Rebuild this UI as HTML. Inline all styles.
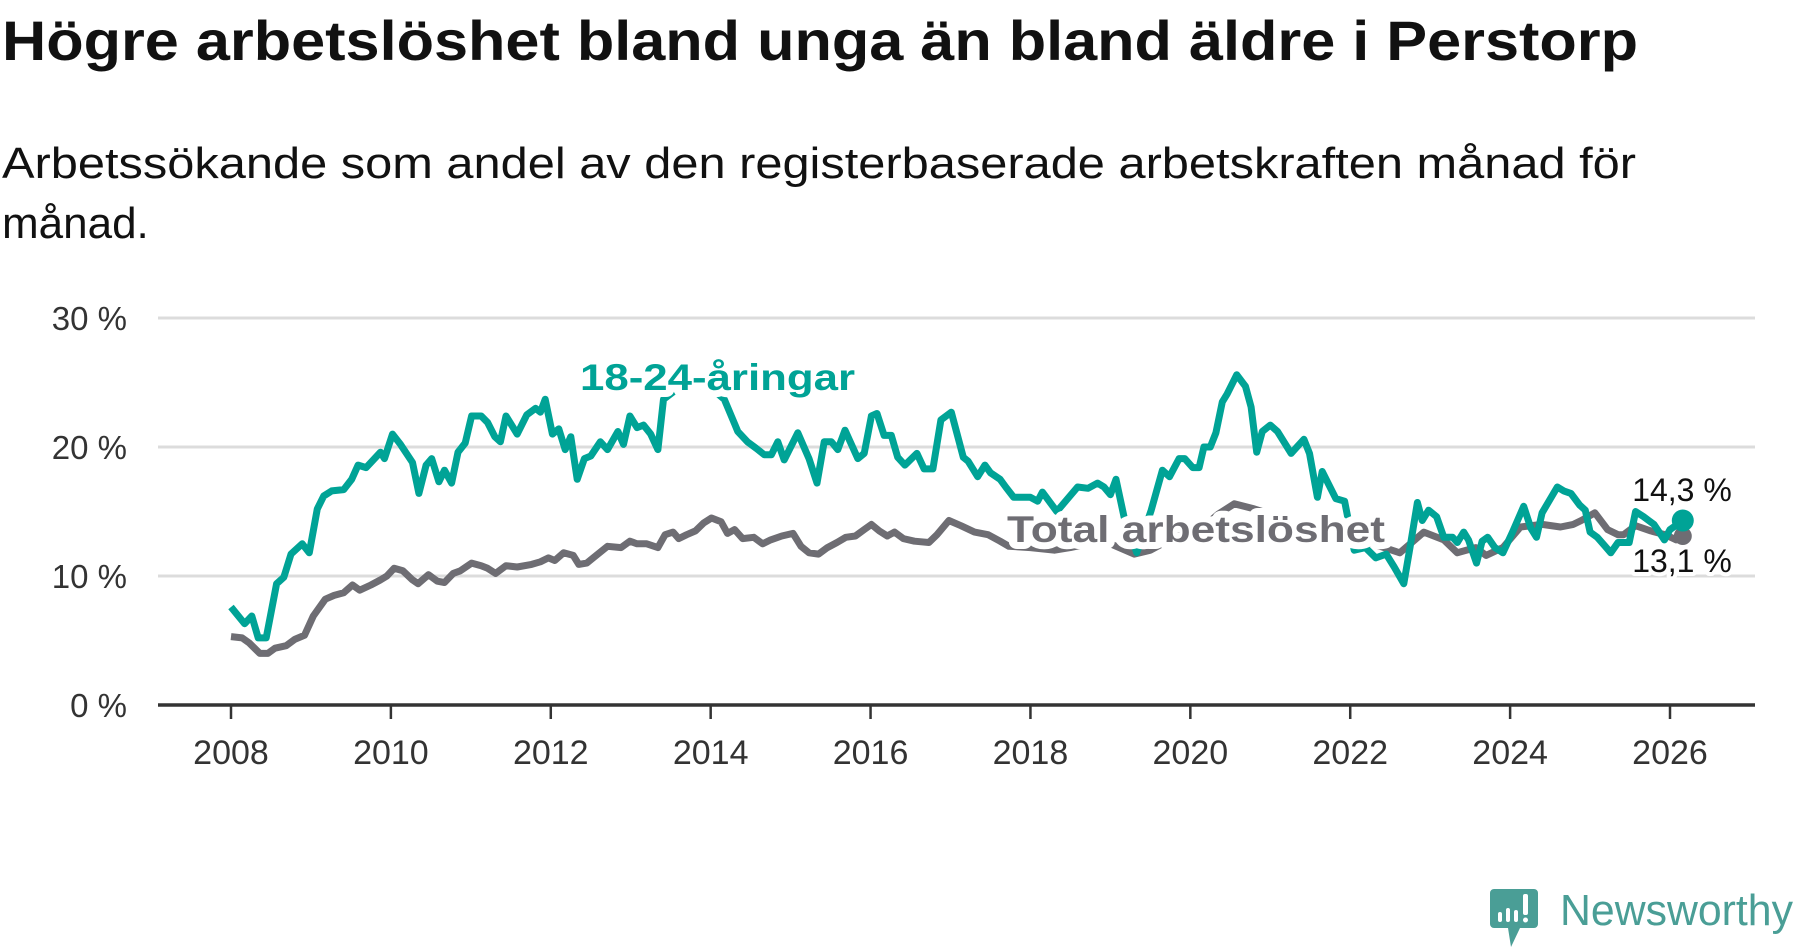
<!DOCTYPE html>
<html><head><meta charset="utf-8">
<style>
html,body{margin:0;padding:0;background:#fff;}
svg{display:block;font-family:"Liberation Sans",sans-serif;}
</style></head>
<body>
<svg id="chart" width="1800" height="948" viewBox="0 0 1800 948" xmlns="http://www.w3.org/2000/svg">
<text x="2" y="60" font-size="56" font-weight="bold" fill="#111" textLength="1636" lengthAdjust="spacingAndGlyphs">Högre arbetslöshet bland unga än bland äldre i Perstorp</text>
<text x="2" y="178" font-size="44" fill="#111" textLength="1634" lengthAdjust="spacingAndGlyphs">Arbetssökande som andel av den registerbaserade arbetskraften månad för</text>
<text x="2" y="238" font-size="44" fill="#111">månad.</text>
<g id="grid"></g>
<g id="axes"></g>
<g id="series"></g>
<g id="labels"></g>
<g>
  <path d="M1494 889 h40 a4 4 0 0 1 4 4 v31 a4 4 0 0 1 -4 4 h-14 l-9 19 l-3 -19 h-14 a4 4 0 0 1 -4 -4 v-31 a4 4 0 0 1 4 -4z" fill="#4a9e96"/>
  <rect x="1498" y="912" width="4" height="10" rx="2" fill="#fff"/>
  <rect x="1506" y="908" width="4" height="14" rx="2" fill="#fff"/>
  <rect x="1514" y="910" width="4" height="12" rx="2" fill="#fff"/>
  <rect x="1523" y="894" width="5" height="21" rx="2" fill="#fff"/>
  <circle cx="1525.5" cy="920" r="2.5" fill="#fff"/>
  <text x="1560" y="925" font-size="44" fill="#4a9e96" textLength="233" lengthAdjust="spacingAndGlyphs">Newsworthy</text>
</g>
</svg>
<script>
const yTicks = [0, 10, 20, 30];
const yTickLabels = ["0 %", "10 %", "20 %", "30 %"];
const xTicks = [2008, 2010, 2012, 2014, 2016, 2018, 2020, 2022, 2024, 2026];
const xTickLabels = ["2008", "2010", "2012", "2014", "2016", "2018", "2020", "2022", "2024", "2026"];

const youthDates = [2008.0,2008.17,2008.26,2008.34,2008.44,2008.57,2008.66,2008.75,2008.89,2008.98,2009.08,2009.16,2009.26,2009.41,2009.51,2009.59,2009.69,2009.87,2009.92,2010.02,2010.12,2010.27,2010.35,2010.44,2010.51,2010.6,2010.67,2010.76,2010.84,2010.93,2011.01,2011.13,2011.21,2011.3,2011.37,2011.44,2011.58,2011.7,2011.81,2011.87,2011.93,2012.02,2012.1,2012.18,2012.25,2012.33,2012.42,2012.5,2012.62,2012.71,2012.84,2012.91,2012.99,2013.08,2013.16,2013.25,2013.34,2013.41,2013.6,2013.8,2014.0,2014.17,2014.3,2014.34,2014.46,2014.57,2014.67,2014.76,2014.84,2014.92,2015.09,2015.23,2015.33,2015.42,2015.51,2015.59,2015.68,2015.84,2015.92,2016.01,2016.08,2016.17,2016.26,2016.34,2016.43,2016.58,2016.67,2016.78,2016.88,2017.01,2017.16,2017.22,2017.34,2017.43,2017.5,2017.62,2017.69,2017.79,2018.0,2018.09,2018.15,2018.33,2018.59,2018.72,2018.84,2018.92,2019.0,2019.07,2019.17,2019.33,2019.51,2019.65,2019.74,2019.86,2019.93,2020.03,2020.11,2020.17,2020.25,2020.32,2020.4,2020.46,2020.58,2020.69,2020.76,2020.83,2020.9,2021.0,2021.09,2021.26,2021.42,2021.49,2021.59,2021.65,2021.82,2021.93,2022.05,2022.19,2022.32,2022.45,2022.55,2022.67,2022.75,2022.84,2022.9,2022.98,2023.08,2023.17,2023.28,2023.34,2023.42,2023.48,2023.58,2023.65,2023.72,2023.81,2023.91,2024.03,2024.17,2024.26,2024.33,2024.4,2024.59,2024.67,2024.76,2024.87,2024.94,2025.0,2025.09,2025.19,2025.26,2025.35,2025.49,2025.57,2025.67,2025.8,2025.93,2026.0,2026.16];
const youthValues = [7.6,6.3,6.9,5.2,5.2,9.4,9.9,11.7,12.5,11.8,15.2,16.2,16.6,16.7,17.5,18.6,18.4,19.6,19.1,21.0,20.2,18.8,16.4,18.6,19.1,17.3,18.2,17.2,19.6,20.3,22.4,22.4,21.9,20.8,20.4,22.4,21.0,22.5,23.0,22.7,23.7,21.0,21.4,19.8,20.8,17.5,19.1,19.3,20.4,19.8,21.2,20.2,22.4,21.5,21.7,21.0,19.8,23.7,24.6,24.8,24.6,23.7,21.8,21.2,20.4,19.9,19.4,19.4,20.4,19.0,21.1,19.1,17.2,20.4,20.4,19.8,21.3,19.1,19.5,22.4,22.6,20.9,20.9,19.2,18.6,19.5,18.3,18.3,22.1,22.7,19.2,18.9,17.7,18.6,18.0,17.5,16.9,16.1,16.1,15.8,16.5,15.0,16.9,16.8,17.2,16.9,16.3,17.5,14.6,11.8,15.1,18.2,17.7,19.1,19.1,18.4,18.4,20.0,20.0,21.1,23.5,24.1,25.6,24.7,23.1,19.6,21.2,21.7,21.2,19.5,20.6,19.5,16.1,18.1,16.0,15.8,12.0,12.2,11.4,11.7,10.7,9.4,12.3,15.7,14.3,15.1,14.6,13.0,13.0,12.6,13.4,12.8,11.0,12.7,13.0,12.2,11.8,13.4,15.4,13.7,13.0,14.9,16.9,16.6,16.4,15.5,15.1,13.4,13.0,12.3,11.8,12.6,12.6,15.0,14.6,14.0,12.8,13.6,14.3];

const totalDates = [2008.0,2008.14,2008.23,2008.36,2008.46,2008.55,2008.69,2008.8,2008.92,2009.03,2009.18,2009.29,2009.41,2009.52,2009.61,2009.75,2009.87,2009.95,2010.04,2010.15,2010.27,2010.34,2010.47,2010.58,2010.67,2010.78,2010.87,2011.01,2011.13,2011.21,2011.31,2011.44,2011.58,2011.76,2011.87,2011.97,2012.05,2012.16,2012.28,2012.35,2012.45,2012.53,2012.71,2012.88,2012.99,2013.08,2013.2,2013.34,2013.43,2013.53,2013.6,2013.7,2013.81,2013.91,2014.01,2014.13,2014.21,2014.3,2014.4,2014.54,2014.65,2014.75,2014.89,2015.03,2015.13,2015.23,2015.35,2015.46,2015.58,2015.69,2015.81,2015.92,2016.01,2016.11,2016.21,2016.3,2016.41,2016.55,2016.73,2016.83,2016.98,2017.13,2017.3,2017.47,2017.62,2017.73,2018.0,2018.3,2018.5,2018.8,2019.0,2019.3,2019.5,2019.8,2020.1,2020.35,2020.55,2020.8,2021.1,2021.5,2021.9,2022.13,2022.62,2022.92,2023.17,2023.34,2023.57,2023.7,2023.91,2024.13,2024.4,2024.63,2024.79,2024.89,2025.06,2025.22,2025.35,2025.42,2025.57,2025.76,2025.94,2026.08,2026.16];
const totalValues = [5.3,5.2,4.8,4.0,4.0,4.4,4.6,5.1,5.4,6.9,8.2,8.5,8.7,9.3,8.9,9.3,9.7,10.0,10.6,10.4,9.7,9.4,10.1,9.6,9.5,10.2,10.4,11.0,10.8,10.6,10.2,10.8,10.7,10.9,11.1,11.4,11.2,11.8,11.6,10.9,11.0,11.4,12.3,12.2,12.7,12.5,12.5,12.2,13.2,13.4,12.9,13.2,13.5,14.1,14.5,14.2,13.3,13.6,12.9,13.0,12.5,12.8,13.1,13.3,12.3,11.8,11.7,12.2,12.6,13.0,13.1,13.6,14.0,13.5,13.1,13.4,12.9,12.7,12.6,13.2,14.3,13.9,13.4,13.2,12.7,12.3,12.2,12.0,12.2,12.6,12.5,11.7,12.0,13.0,13.5,14.8,15.6,15.2,14.6,13.8,12.9,12.8,11.8,13.4,12.8,11.8,12.2,11.6,12.2,13.8,14.0,13.8,14.0,14.3,14.9,13.6,13.2,13.2,13.9,13.5,13.2,12.8,13.1];

const NS = "http://www.w3.org/2000/svg";
const X0 = 231, X1 = 1670, Y0 = 705, Y30 = 318;
function xScale(yr){ return X0 + (yr - 2008) * (X1 - X0) / 18; }
function yScale(v){ return Y0 - v * (Y0 - Y30) / 30; }
function mk(tag, attrs, parent){ const e = document.createElementNS(NS, tag); for (const k in attrs) e.setAttribute(k, attrs[k]); parent.appendChild(e); return e; }

const grid = document.getElementById('grid');
const axes = document.getElementById('axes');
yTicks.forEach((t, i) => {
  if (t !== 0) {
    const gl = mk('line', {x1:158, x2:1755, y1:yScale(t), y2:yScale(t), stroke:'#dcdcdc', 'stroke-width':3}, grid);
    
    
  }
  const lb = mk('text', {x:127, y:yScale(t)+12, 'text-anchor':'end', 'font-size':33, fill:'#333'}, axes);
  lb.textContent = yTickLabels[i];
  
  
});
const ax = mk('line', {x1:158, x2:1755, y1:Y0, y2:Y0, stroke:'#333', 'stroke-width':3.5}, axes);


xTicks.forEach((t, i) => {
  const tk = mk('line', {x1:xScale(t), x2:xScale(t), y1:Y0, y2:Y0+14, stroke:'#333', 'stroke-width':2.5}, axes);
  
  
  const lb = mk('text', {x:xScale(t), y:764, 'text-anchor':'middle', 'font-size':34, fill:'#333'}, axes);
  lb.textContent = xTickLabels[i];
  
  
});

const series = document.getElementById('series');
function pathFor(d, v){ return d.map((yr, i) => (i ? 'L' : 'M') + xScale(yr).toFixed(1) + ' ' + yScale(v[i]).toFixed(1)).join(' '); }
const tl = mk('path', {d:pathFor(totalDates, totalValues), fill:'none', stroke:'#6e6d73', 'stroke-width':7, 'stroke-linejoin':'round'}, series);


const tdot = mk('circle', {cx:xScale(totalDates[totalDates.length-1]), cy:yScale(totalValues[totalValues.length-1]), r:9, fill:'#6e6d73'}, series);


const yl = mk('path', {d:pathFor(youthDates, youthValues), fill:'none', stroke:'#00a396', 'stroke-width':7, 'stroke-linejoin':'round'}, series);


const ydot = mk('circle', {cx:xScale(youthDates[youthDates.length-1]), cy:yScale(youthValues[youthValues.length-1]), r:11, fill:'#00a396'}, series);



const labels = document.getElementById('labels');
function halo(attrs, txt, name){
  const t = mk('text', Object.assign({stroke:'#fff', 'stroke-width':14, 'paint-order':'stroke', 'stroke-linejoin':'round'}, attrs), labels);
  t.textContent = txt;
  
  
}
halo({x:580, y:390, 'font-size':37, 'font-weight':'bold', fill:'#00a396', textLength:275, lengthAdjust:'spacingAndGlyphs'}, '18-24-åringar', 'youth-series-label');
halo({x:1007, y:542, 'font-size':37, 'font-weight':'bold', fill:'#6e6d73', textLength:378, lengthAdjust:'spacingAndGlyphs'}, 'Total arbetslöshet', 'total-series-label');
halo({x:1682, y:501, 'font-size':32, 'text-anchor':'middle', fill:'#111', 'stroke-width':8}, '14,3 %', 'youth-end-value');
halo({x:1682, y:572, 'font-size':32, 'text-anchor':'middle', fill:'#111', 'stroke-width':8}, '13,1 %', 'total-end-value');
</script>
</body></html>
